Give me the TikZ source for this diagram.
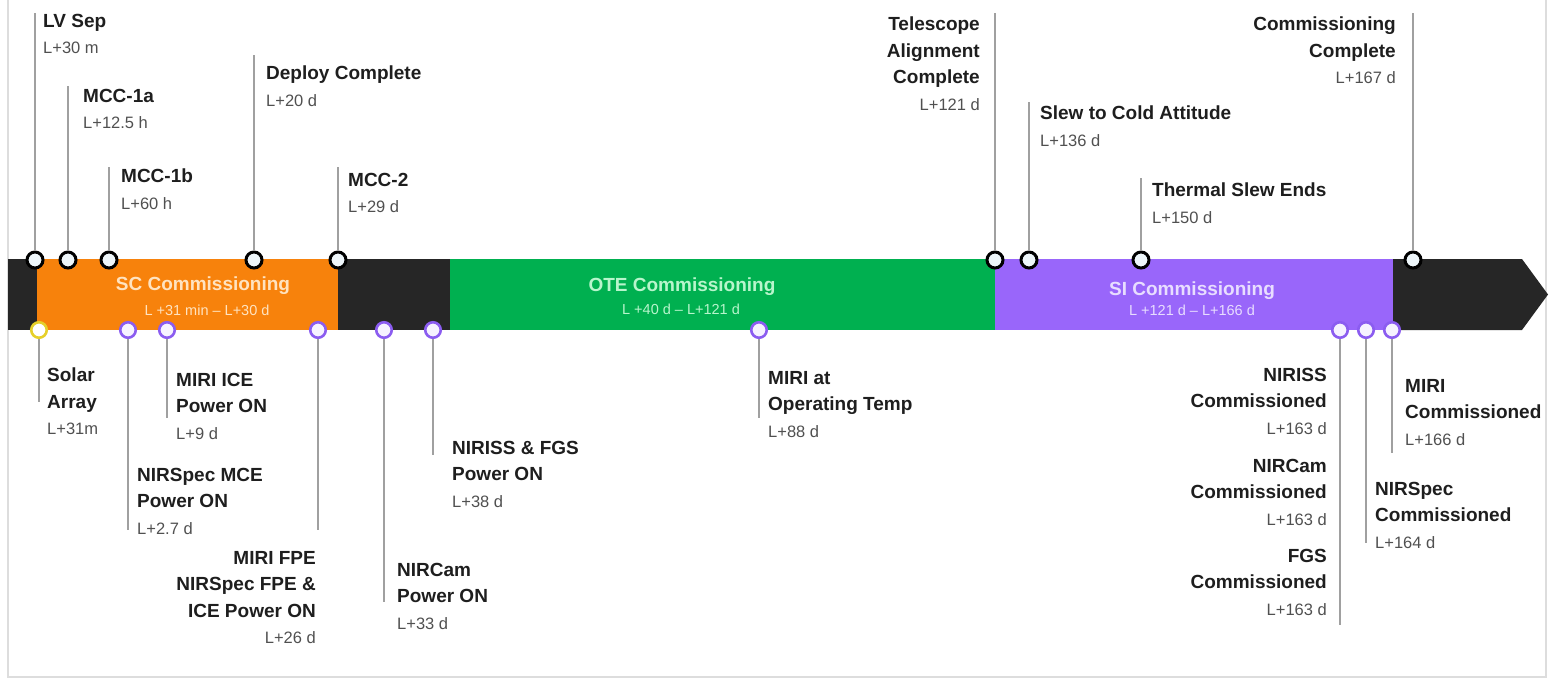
\documentclass[tikz,border=0pt]{standalone}
\usepackage{fontspec}
\setmainfont{Liberation Sans}
\definecolor{barblack}{HTML}{262626}
\definecolor{barorange}{HTML}{F7820C}
\definecolor{bargreen}{HTML}{00B050}
\definecolor{barpurple}{HTML}{9966FA}
\definecolor{sctext}{HTML}{FFE3C0}
\definecolor{otetext}{HTML}{B8F5CC}
\definecolor{sitext}{HTML}{E8DDFF}
\definecolor{linegray}{HTML}{A0A0A0}
\definecolor{framegray}{HTML}{DDDDDD}
\definecolor{markfill}{HTML}{EEF6FA}
\definecolor{markpurple}{HTML}{8B5CF0}
\definecolor{markyellow}{HTML}{E6D02A}
\definecolor{botfill}{HTML}{F6F2FF}
\definecolor{titlecol}{HTML}{1E1E1E}
\definecolor{dategray}{HTML}{505050}
\newcommand{\evdate}[1]{{\color{dategray}\mdseries\fontsize{16.5}{26.5}\selectfont #1}}
\begin{document}
\begin{tikzpicture}[x=1pt,y=-1pt,
  conn/.style={draw=linegray, line width=1.2pt},
  topmark/.style={circle, draw=black, line width=3pt, fill=markfill, minimum size=16pt, inner sep=0pt},
  botmark/.style={circle, draw=markpurple, line width=2.6pt, fill=botfill, minimum size=15.5pt, inner sep=0pt},
  evl/.style={anchor=north west, align=left, inner sep=0pt, text=titlecol, font=\fontsize{19}{26.5}\selectfont\bfseries},
  evr/.style={evl, anchor=north east, align=right},
  phase/.style={anchor=base, inner sep=0pt, font=\fontsize{19}{21}\selectfont\bfseries},
  phasesub/.style={anchor=base, inner sep=0pt, font=\fontsize{14.5}{16}\selectfont}]
\useasboundingbox (0,0) rectangle (1551,680);
% frame
\draw[framegray, line width=1.5pt] (8,0) -- (8,677) -- (1546,677) -- (1546,0);
% bar
\fill[barblack] (8,259) rectangle (37,330);
\fill[barorange] (37,259) rectangle (338,330);
\fill[barblack] (338,259) rectangle (450,330);
\fill[bargreen] (450,259) rectangle (995,330);
\fill[barpurple] (995,259) rectangle (1393,330);
\fill[barblack] (1393,259) -- (1522,259) -- (1548,294.5) -- (1522,330) -- (1393,330) -- cycle;
% phase labels
\node[phase, text=sctext] (scT) at (203,290) {SC Commissioning};
\node[phasesub, text=sctext] (scS) at (207,315) {L +31 min – L+30 d};
\node[phase, text=otetext] (oteT) at (682,291) {OTE Commissioning};
\node[phasesub, text=otetext] (oteS) at (681,314) {L +40 d – L+121 d};
\node[phase, text=sitext] (siT) at (1192,295) {SI Commissioning};
\node[phasesub, text=sitext] (siS) at (1192,315) {L +121 d – L+166 d};
% top markers
\node[topmark] (lvsep) at (35,260) {};
\node[topmark] (mcca) at (68,260) {};
\node[topmark] (mccb) at (109,260) {};
\node[topmark] (deploy) at (254,260) {};
\node[topmark] (mcc2) at (338,260) {};
\node[topmark] (tele) at (995,260) {};
\node[topmark] (slew) at (1029,260) {};
\node[topmark] (therm) at (1141,260) {};
\node[topmark] (ccomp) at (1413,260) {};
% bottom markers
\node[botmark, draw=markyellow, fill=white] (solar) at (39,330) {};
\node[botmark] (nmce) at (128,330) {};
\node[botmark] (mice) at (167,330) {};
\node[botmark] (mfpe) at (318,330) {};
\node[botmark] (ncam) at (384,330) {};
\node[botmark] (nfgs) at (433,330) {};
\node[botmark] (mop) at (759,330) {};
\node[botmark] (nirc) at (1340,330) {};
\node[botmark] (nspc) at (1366,330) {};
\node[botmark] (miric) at (1392,330) {};
% connector ends
\coordinate (lvsepE) at (35,13);
\coordinate (mccaE) at (68,86);
\coordinate (mccbE) at (109,167);
\coordinate (deployE) at (254,55);
\coordinate (mcc2E) at (338,167);
\coordinate (teleE) at (995,13);
\coordinate (slewE) at (1029,102);
\coordinate (thermE) at (1141,178);
\coordinate (ccompE) at (1413,13);
\coordinate (solarE) at (39,402);
\coordinate (nmceE) at (128,530);
\coordinate (miceE) at (167,418);
\coordinate (mfpeE) at (318,530);
\coordinate (ncamE) at (384,602);
\coordinate (nfgsE) at (433,455);
\coordinate (mopE) at (759,418);
\coordinate (nircE) at (1340,625);
\coordinate (nspcE) at (1366,543);
\coordinate (miricE) at (1392,453);
\foreach \m in {lvsep,mcca,mccb,deploy,mcc2,tele,slew,therm,ccomp,solar,nmce,mice,mfpe,ncam,nfgs,mop,nirc,nspc,miric}
  \draw[conn] (\m) -- (\m E);
% top labels
\node[evl] (lvsepL) at (43,14) {LV Sep\\\evdate{L+30 m}};
\node[evl] (mccaL) at (83,89) {MCC-1a\\\evdate{L+12.5 h}};
\node[evl] (mccbL) at (121,169) {MCC-1b\\\evdate{L+60 h}};
\node[evl] (deployL) at (266,66) {Deploy Complete\\\evdate{L+20 d}};
\node[evl] (mcc2L) at (348,173) {MCC-2\\\evdate{L+29 d}};
\node[evr] (teleL) at (980,17) {Telescope\\Alignment\\Complete\\\evdate{L+121 d}};
\node[evl] (slewL) at (1040,106) {Slew to Cold Attitude\\\evdate{L+136 d}};
\node[evl] (thermL) at (1152,183) {Thermal Slew Ends\\\evdate{L+150 d}};
\node[evr] (ccompL) at (1396,17) {Commissioning\\Complete\\\evdate{L+167 d}};
% bottom labels
\node[evl] (solarL) at (47,368) {Solar\\Array\\\evdate{L+31m}};
\node[evl] (miceL) at (176,373) {MIRI ICE\\Power ON\\\evdate{L+9 d}};
\node[evl] (nmceL) at (137,468) {NIRSpec MCE\\Power ON\\\evdate{L+2.7 d}};
\node[evr] (mfpeL) at (316,551) {MIRI FPE\\NIRSpec FPE \&\\ICE Power ON\\\evdate{L+26 d}};
\node[evl] (ncamL) at (397,563) {NIRCam\\Power ON\\\evdate{L+33 d}};
\node[evl] (nfgsL) at (452,441) {NIRISS \& FGS\\Power ON\\\evdate{L+38 d}};
\node[evl] (mopL) at (768,371) {MIRI at\\Operating Temp\\\evdate{L+88 d}};
\node[evr] (nircL) at (1327,368) {NIRISS\\Commissioned\\\evdate{L+163 d}};
\node[evr] (ncamcL) at (1327,459) {NIRCam\\Commissioned\\\evdate{L+163 d}};
\node[evr] (fgscL) at (1327,549) {FGS\\Commissioned\\\evdate{L+163 d}};
\node[evl] (nspcL) at (1375,482) {NIRSpec\\Commissioned\\\evdate{L+164 d}};
\node[evl] (miricL) at (1405,379) {MIRI\\Commissioned\\\evdate{L+166 d}};
\end{tikzpicture}
\end{document}
